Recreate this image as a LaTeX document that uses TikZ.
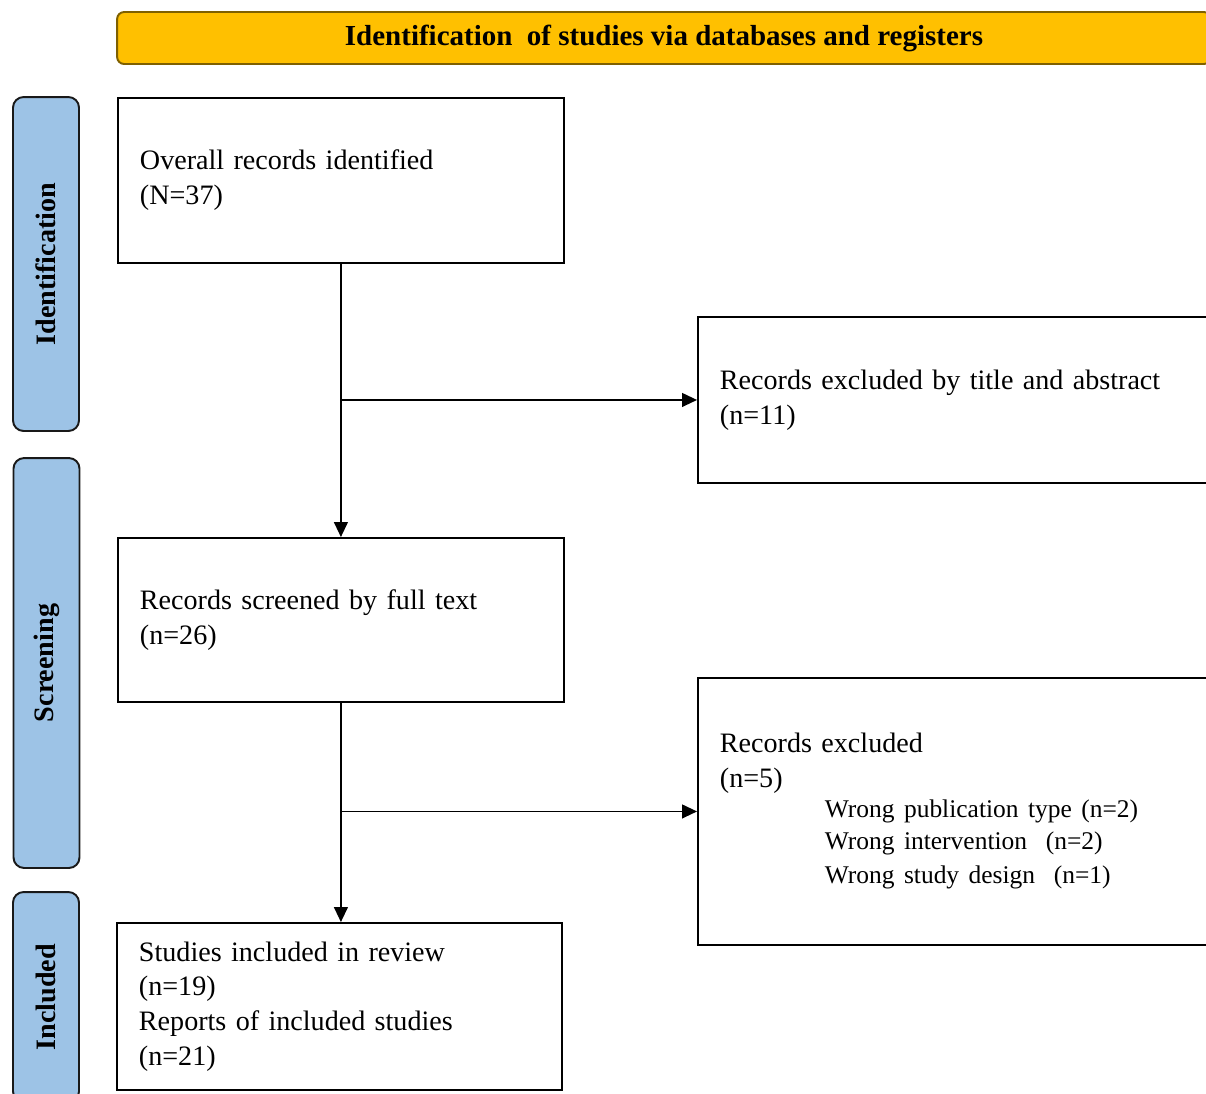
\documentclass[tikz,border=0pt]{standalone}
\usepackage{fontspec}
\setmainfont{Liberation Serif}
\usetikzlibrary{arrows.meta,positioning,calc}
\definecolor{banner}{HTML}{FFC000}
\definecolor{bannerrim}{HTML}{7F6000}
\definecolor{phase}{HTML}{9DC3E6}

\begin{document}
\begin{tikzpicture}[
      x=0.02cm, y=-0.02cm,
      box/.style={rectangle, draw=black, line width=1.1pt, fill=white,
                  anchor=north west, align=left, inner xsep=0.44cm, inner ysep=0pt,
                  font=\fontsize{16}{19.8}\selectfont},
      phasebox/.style={rectangle, rounded corners=6pt, draw=black!90, line width=1.1pt,
                       fill=phase, rotate=90, minimum height=1.32cm,
                       font=\fontsize{16}{19}\selectfont\bfseries},
      arr/.style={-{Triangle[length=0.3cm, width=0.28cm]}, line width=0.7pt}
    ]
      \clip (0,0) rectangle (1206,1093);
      % banner and phases
      \node[rectangle, rounded corners=4pt, draw=bannerrim, line width=1.1pt, fill=banner,
            minimum width=21.88cm, minimum height=1.04cm,
            font=\fontsize{16.5}{19}\selectfont\bfseries] (banner) at (664,38)
            {Identification\ \ of studies via databases and registers};
      \node[phasebox, minimum width=6.68cm] (pident) at (46,264) {Identification};
      \node[phasebox, minimum width=8.2cm] (pscreen) at (46.5,663) {Screening};
      \node[phasebox, minimum width=4.2cm] (pincl) at (46,997) {Included};
      % boxes
      \node[box, minimum width=8.92cm, minimum height=3.3cm, text width=8.04cm] (overall) at (117,97)
            {Overall records identified\\(N=37)};
      \node[box, minimum width=11.4cm, minimum height=3.32cm, text width=10.52cm] (byabs) at (697,316)
            {Records excluded by title and abstract\\(n=11)};
      \node[box, minimum width=8.92cm, minimum height=3.28cm, text width=8.04cm] (fulltext) at (117,537)
            {Records screened by full text\\(n=26)};
      \node[box, minimum width=11.4cm, minimum height=5.34cm, text width=10.52cm] (excl) at (697,677)
            {Records excluded\\(n=5)\\[-1pt]
             \fontsize{14.5}{18}\selectfont\hspace*{2.1cm}Wrong publication type (n=2)\\
             \hspace*{2.1cm}Wrong intervention\ \ (n=2)\\
             \hspace*{2.1cm}Wrong study design\ \ (n=1)};
      \node[box, minimum width=8.9cm, minimum height=3.34cm, text width=8.02cm] (review) at (116,922)
            {Studies included in review\\(n=19)\\Reports of included studies\\(n=21)};
      % connectors
      \coordinate (j1) at (overall.south |- byabs.west);
      \coordinate (j2) at (fulltext.south |- excl.west);
      \draw[arr] (overall.south) -- (fulltext.north);
      \draw[arr] (j1) -- (byabs.west);
      \draw[arr] (fulltext.south) -- (fulltext.south |- review.north);
      \draw[arr] (j2) -- (excl.west);
    \end{tikzpicture}
\end{document}
